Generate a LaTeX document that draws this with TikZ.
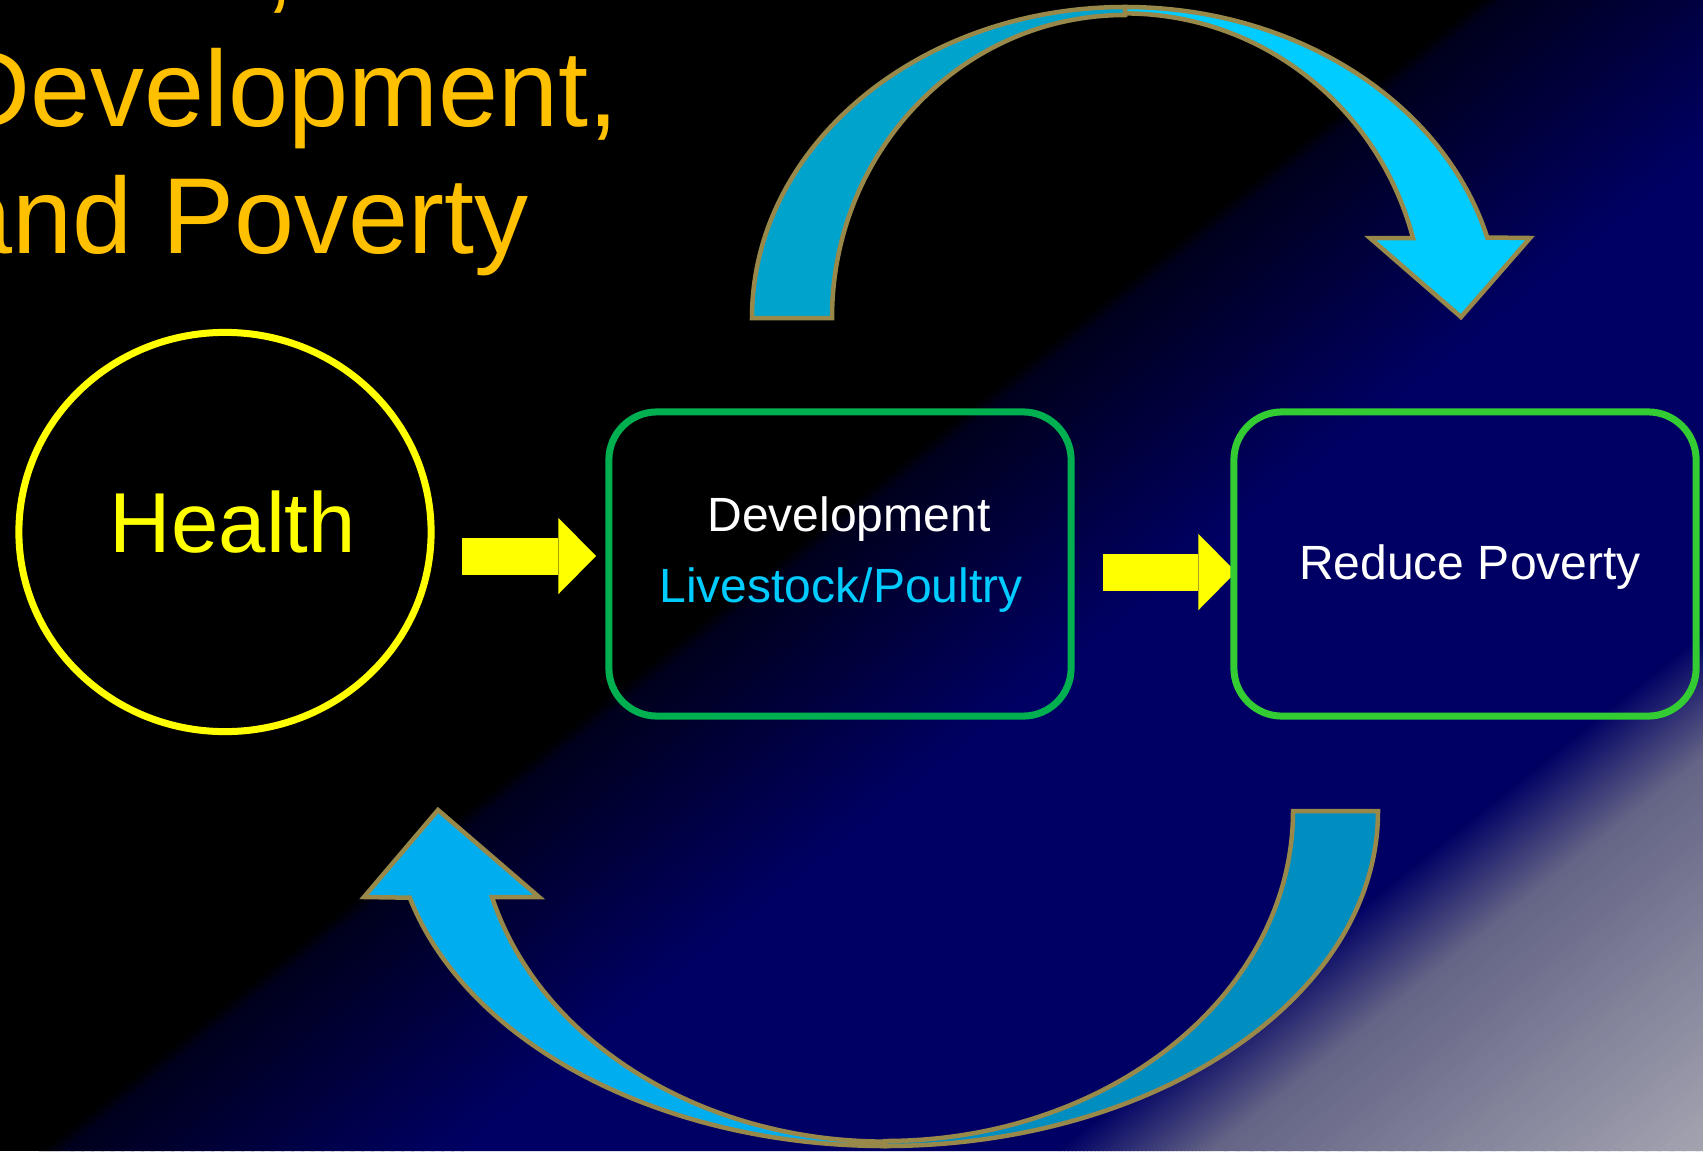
\documentclass[tikz,border=0pt]{standalone}
\usepackage{fontspec}
\setmainfont{Liberation Sans}
\usetikzlibrary{shapes.geometric, arrows.meta}

\definecolor{titlegold}{RGB}{255,192,0}
\definecolor{healthyellow}{RGB}{255,255,0}
\definecolor{devgreen}{RGB}{0,176,80}
\definecolor{povgreen}{RGB}{51,204,51}
\definecolor{stockcyan}{RGB}{0,204,255}
\definecolor{bandolive}{RGB}{152,136,74}
\definecolor{topback}{RGB}{0,163,204}
\definecolor{topfront}{RGB}{0,204,255}
\definecolor{lowfront}{RGB}{0,174,239}
\definecolor{lowback}{RGB}{0,142,192}
\definecolor{bgdeep}{RGB}{0,0,28}
\definecolor{bgnavy}{RGB}{0,0,100}
\definecolor{bgmid}{RGB}{100,100,134}
\definecolor{bggrey}{RGB}{166,166,178}

% diagonal strips for the background: start, stop, colour from, colour to
\newcommand{\bgramp}[4]{%
	\foreach \i in {0,...,39}{%
		\pgfmathsetmacro{\rampa}{#1+(#2-#1)/40*\i}
		\pgfmathsetmacro{\rampb}{#1+(#2-#1)/40*(\i+1.3)}
		\pgfmathsetmacro{\rampc}{2.5*(\i+0.5)}
		\fill[#4!\rampc!#3] (\rampa, 0) -- (\rampb, 0) -- (\rampb-1439, 1151) -- (\rampa-1439, 1151) -- cycle;
	}}

\begin{document}
\begin{tikzpicture}[x = 0.01cm, y = -0.01cm,
	titletext/.style = {text = titlegold, anchor = base west, inner sep = 0pt, font = \fontsize{30.7}{36}\selectfont},
	healthring/.style = {ellipse, draw = healthyellow, line width = 0.07cm, minimum width = 4.12cm, minimum height = 3.99cm, inner sep = 0pt},
	stagebox/.style = {rectangle, rounded corners = 0.48cm, line width = 0.07cm, minimum width = 4.62cm, minimum height = 3.04cm, inner sep = 0pt},
	boxtext/.style = {anchor = base, inner sep = 0pt, font = \fontsize{13.66}{16}\selectfont},
	blockarrow/.style = {draw = healthyellow, line width = 0.37cm, -{Triangle[width = 0.76cm, length = 0.375cm, line width = 0pt]}},
	bandline/.style = {draw = bandolive, line width = 0.045cm, line join = miter}]

	\useasboundingbox (0, 0) rectangle (1703, 1151);

	% background
	\fill[black] (0, 0) rectangle (1703, 1151);
	\begin{scope}
		\clip (0, 0) rectangle (1703, 1151);
		\bgramp{1478}{1500}{black}{bgdeep}
		\bgramp{1500}{1900}{bgdeep}{bgnavy}
		\fill[bgnavy] (1900, 0) -- (2495, 0) -- (1056, 1151) -- (461, 1151) -- cycle;
		\bgramp{2495}{2650}{bgnavy}{bgmid}
		\bgramp{2650}{3160}{bgmid}{bggrey}
	\end{scope}

	% title
	\node[titletext] (titleone)   at (-48,  -1) {Health,};
	\node[titletext] (titletwo)   at (-48, 126) {Development,};
	\node[titletext] (titlethree) at (-48, 253) {and Poverty};

	% upper curved arrow
	\filldraw[bandline, fill = topback] (752, 318) arc[start angle = 180, end angle = 270, x radius = 373, y radius = 311] -- (1125, 15) arc[start angle = 270, end angle = 180, x radius = 293, y radius = 303] -- cycle;
	\filldraw[bandline, fill = topfront] (1125, 7) arc[start angle = 270, end angle = 345, x radius = 375, y radius = 311] -- (1530, 238) -- (1461, 317) -- (1370, 238) -- (1413, 238) arc[start angle = 345, end angle = 270, x radius = 298, y radius = 303] -- cycle;

	% lower curved arrow
	\filldraw[bandline, fill = lowback] (1378, 811) arc[start angle = 0, end angle = 90, x radius = 493, y radius = 335] -- (885, 1141) arc[start angle = 90, end angle = 0, x radius = 408, y radius = 330] -- cycle;
	\filldraw[bandline, fill = lowfront] (885, 1146) arc[start angle = 90, end angle = 165, x radius = 492, y radius = 335] -- (364, 897) -- (438, 810) -- (539, 897) -- (492, 897) arc[start angle = 165, end angle = 90, x radius = 407, y radius = 330] -- cycle;

	% yellow arrows
	\coordinate (healthout) at (462, 556);
	\coordinate (devin)     at (596, 556);
	\coordinate (devout)    at (1103, 572);
	\coordinate (povin)     at (1236, 572);
	\draw[blockarrow] (healthout) -- (devin);
	\draw[blockarrow] (devout) -- (povin);

	% nodes
	\node[healthring] (health) at (225, 532) {};
	\node[stagebox, draw = devgreen] (devbox) at (840, 564) {};
	\node[stagebox, draw = povgreen] (povbox) at (1465, 564) {};

	\node[boxtext, text = healthyellow, font = \fontsize{24.2}{29}\selectfont] (healthtext) at (233, 552) {Health};
	\node[boxtext, text = white]     (devtext)   at (849, 531) {Development};
	\node[boxtext, text = stockcyan] (stocktext) at (841, 602) {Livestock/Poultry};
	\node[boxtext, text = white]     (povtext)   at (1470, 579) {Reduce Poverty};

\end{tikzpicture}
\end{document}
